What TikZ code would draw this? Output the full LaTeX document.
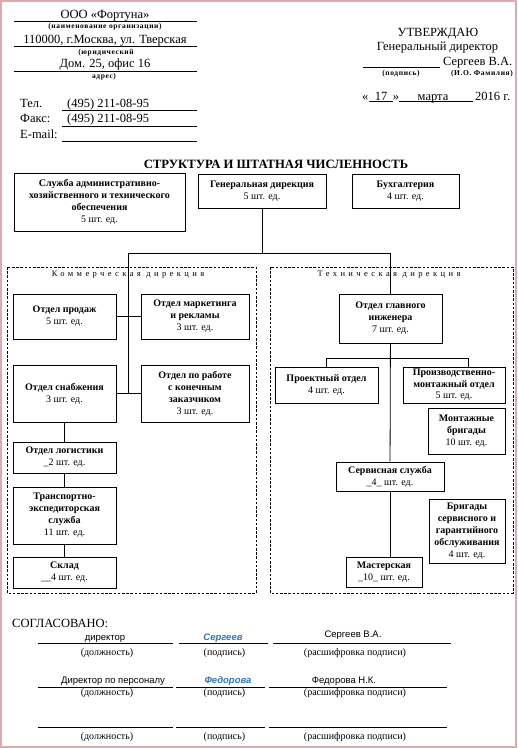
\documentclass[tikz,border=0pt]{standalone}
\usepackage{fontspec}
\setmainfont{Liberation Serif}
\setsansfont{Liberation Sans}
\usetikzlibrary{positioning,calc}
\definecolor{framepink}{RGB}{226,168,176}
\definecolor{signblue}{RGB}{46,117,182}
\newcommand{\unitfont}{\fontsize{10}{12}\selectfont\bfseries}
\newcommand{\formfont}{\fontsize{12.5}{14}\selectfont}
\newcommand{\hintfont}{\fontsize{7.5}{8}\selectfont\bfseries\addfontfeature{LetterSpace=8}}

\begin{document}
\begin{tikzpicture}[x=1pt, y=-1pt,
    unitbox/.style={draw, line width=0.9pt, align=center, font=\unitfont, inner sep=1pt},
    division/.style={draw, line width=0.8pt, dash pattern=on 2.6pt off 1.6pt},
    divtitle/.style={font=\fontsize{8.5}{9}\selectfont\addfontfeature{LetterSpace=40}, anchor=base, inner sep=0pt},
    link/.style={line width=0.8pt},
    formline/.style={line width=0.7pt},
    formtext/.style={font=\formfont, anchor=base, inner sep=0pt},
    hint/.style={font=\hintfont, anchor=base, inner sep=0pt},
    signtext/.style={font=\sffamily\fontsize{9.5}{10}\selectfont, anchor=base, inner sep=0pt},
    signhand/.style={font=\sffamily\itshape\bfseries\fontsize{9.5}{10}\selectfont, text=signblue, anchor=base, inner sep=0pt},
    signhint/.style={font=\fontsize{10}{11}\selectfont, anchor=base, inner sep=0pt}
]
\useasboundingbox (0,0) rectangle (518,748);
\draw[framepink, line width=1.5pt] (1,1) rectangle (516,747);

% реквизиты организации
\node[formtext] (org) at (105,18) {ООО «Фортуна»};
\draw[formline] (14,21) -- (197,21);
\node[hint] (orghint) at (105,28) {(наименование организации)};
\node[formtext] (addr1) at (105,43) {110000, г.Москва, ул. Тверская};
\draw[formline] (14,46) -- (197,46);
\node[hint] (addrhint1) at (106,54) {(юридический};
\node[formtext] (addr2) at (105,67) {Дом. 25, офис 16};
\draw[formline] (14,71) -- (197,71);
\node[hint] (addrhint2) at (104,78) {адрес)};

\node[formtext, anchor=base west] (tel) at (20,107) {Тел.};
\node[formtext, anchor=base west] (telnum) at (67,107) {(495) 211-08-95};
\draw[formline] (62,110) -- (197,110);
\node[formtext, anchor=base west] (fax) at (20,122) {Факс:};
\node[formtext, anchor=base west] (faxnum) at (67,122) {(495) 211-08-95};
\draw[formline] (62,126) -- (197,126);
\node[formtext, anchor=base west] (mail) at (20,138) {E-mail:};
\draw[formline] (62,141) -- (197,141);

% гриф утверждения
\node[formtext] (approve) at (438,36) {УТВЕРЖДАЮ};
\node[formtext] (post) at (437.5,50) {Генеральный директор};
\draw[formline] (363,67) -- (440,67);
\node[formtext, anchor=base west] (head) at (443,65) {Сергеев В.А.};
\node[hint] (headsign) at (401,75) {(подпись)};
\node[hint] (headname) at (482,75) {(И.О. Фамилия)};
\node[formtext, anchor=base west] (dopen) at (362,100) {«};
\node[formtext] (dday) at (381,100) {17};
\node[formtext] (dclose) at (396,100) {»};
\node[formtext] (dmonth) at (433,100) {марта};
\node[formtext, anchor=base west] (dyear) at (475,100) {2016 г.};
\draw[formline] (369,101.5) -- (393,101.5);
\draw[formline] (399,101.5) -- (473,101.5);

\node[font=\fontsize{12.7}{14}\selectfont\bfseries, anchor=base] (title) at (276,168) {СТРУКТУРА И ШТАТНАЯ ЧИСЛЕННОСТЬ};

% верхний уровень
\node[unitbox, minimum width=171pt, minimum height=58pt] (adm) at (99.5,202) {Служба административно-\\хозяйственного и технического\\обеспечения\\\mdseries 5 шт. ед.};
\node[unitbox, minimum width=128pt, minimum height=34pt] (gen) at (262,191) {Генеральная дирекция\\\mdseries 5 шт. ед.};
\node[unitbox, minimum width=107pt, minimum height=34pt] (buh) at (405.5,191) {Бухгалтерия\\\mdseries 4 шт. ед.};

% коммерческая дирекция
\draw[division] (7,267) rectangle (256,593);
\node[divtitle] (comtitle) at (128,276) {Коммерческая дирекция};
\node[unitbox, minimum width=103pt, minimum height=45pt] (prod) at (64.5,316.5) {Отдел продаж\\\mdseries 5 шт. ед.};
\node[unitbox, minimum width=108pt, minimum height=45pt] (mark) at (195,316.5) {Отдел маркетинга\\и рекламы\\\mdseries 3 шт. ед.};
\node[unitbox, minimum width=103pt, minimum height=57pt] (snab) at (64.5,393.5) {Отдел снабжения\\\mdseries 3 шт. ед.};
\node[unitbox, minimum width=108pt, minimum height=57pt] (client) at (195,393.5) {Отдел по работе\\с конечным\\заказчиком\\\mdseries 3 шт. ед.};
\node[unitbox, minimum width=103pt, minimum height=31pt] (logist) at (64.5,457.5) {Отдел логистики\\\mdseries \_2 шт. ед.};
\node[unitbox, minimum width=103pt, minimum height=57pt] (trans) at (64.5,515.5) {Транспортно-\\экспедиторская\\служба\\\mdseries 11 шт. ед.};
\node[unitbox, minimum width=103pt, minimum height=31pt] (sklad) at (64.5,572.5) {Склад\\\mdseries \_\_4 шт. ед.};

% техническая дирекция
\draw[division] (270,267) rectangle (513,593);
\node[divtitle] (techtitle) at (389,276) {Техническая дирекция};
\node[unitbox, minimum width=103pt, minimum height=49pt] (gleng) at (390.5,318.5) {Отдел главного\\инженера\\\mdseries 7 шт. ед.};
\node[unitbox, minimum width=103pt, minimum height=36pt] (proj) at (326.5,385) {Проектный отдел\\\mdseries 4 шт. ед.};
\node[unitbox, minimum width=102pt, minimum height=36pt, font=\fontsize{10}{11.5}\selectfont\bfseries] (proizv) at (454,385) {Производственно-\\монтажный отдел\\\mdseries 5 шт. ед.};
\node[unitbox, minimum width=77pt, minimum height=46pt] (montazh) at (466.5,431) {Монтажные\\бригады\\\mdseries 10 шт. ед.};
\node[unitbox, minimum width=108pt, minimum height=29pt] (serv) at (390,476.5) {Сервисная служба\\\mdseries \_4\_ шт. ед.};
\node[unitbox, minimum width=76pt, minimum height=64pt] (brig) at (467,531) {Бригады\\сервисного и\\гарантийного\\обслуживания\\\mdseries 4 шт. ед.};
\node[unitbox, minimum width=76pt, minimum height=30pt] (master) at (384,572) {Мастерская\\\mdseries \_10\_ шт. ед.};

% связи
\coordinate (forkL) at (128,253);
\coordinate (forkR) at (390,253);
\coordinate (brL) at (326.5,358);
\coordinate (brR) at (468,358);
\draw[link] (gen) -- (gen |- forkL);
\draw[link] (forkL) -- (forkR);
\draw[link] (forkL) -- (forkL |- snab.east);
\draw[link] (prod) -- (mark);
\draw[link] (snab) -- (client);
\draw[link] (snab) -- (logist);
\draw[link] (logist) -- (trans);
\draw[link] (trans) -- (sklad);
\draw[link] (forkR) -- (forkR |- gleng.north);
\draw[link] (gleng) -- (serv);
\draw[link] (brL |- proj.north) -- (brL) -- (brR) -- (brR |- proizv.north);
\draw[link] (serv.south) -- (serv.south |- master.north);

% согласование
\node[formtext, anchor=base west] (agreed) at (12,627) {СОГЛАСОВАНО:};
\node[signtext] (post1) at (105,640) {директор};
\node[signhand] (sign1) at (223,640) {Сергеев};
\node[signtext] (name1) at (353,637) {Сергеев В.А.};
\draw[formline] (38,643) -- (173,643);
\draw[formline] (179,643) -- (268,643);
\draw[formline] (273,643) -- (451,643);
\node[signtext] (post2) at (113,683) {Директор по персоналу};
\node[signhand] (sign2) at (228,683) {Федорова};
\node[signtext] (name2) at (344,683) {Федорова Н.К.};
\foreach \y in {687,727} {
  \draw[formline] (38,\y) -- (173,\y);
  \draw[formline] (176,\y) -- (265,\y);
  \draw[formline] (269,\y) -- (447,\y);
}
\foreach \y/\r in {655/1,695/2,739/3} {
  \node[signhint] (posthint\r) at (107,\y) {(должность)};
  \node[signhint] (signhint\r) at (224.5,\y) {(подпись)};
  \node[signhint] (namehint\r) at (355,\y) {(расшифровка подписи)};
}
\end{tikzpicture}
\end{document}
